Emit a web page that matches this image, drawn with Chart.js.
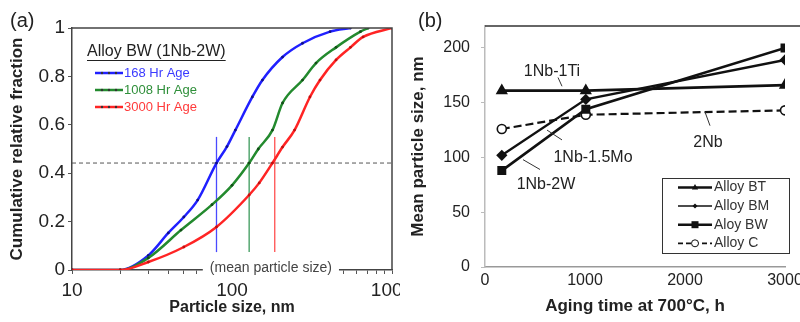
<!DOCTYPE html>
<html>
<head>
<meta charset="utf-8">
<script src="https://cdn.jsdelivr.net/npm/chart.js@4.4.1/dist/chart.umd.min.js"></script>
<style>
  html, body { margin: 0; padding: 0; background: #fff; }
  #wrap { position: relative; width: 800px; height: 322px; overflow: hidden; }
  .panel { position: absolute; top: 0; width: 400px; height: 322px; overflow: hidden; }
  .panel canvas { display: block; }
  #panelA { left: 0; }
  #panelB { left: 400px; }
</style>
</head>
<body>
<div id="wrap">
  <div class="panel" id="panelA"><canvas id="graphA" width="420" height="322"></canvas></div>
  <div class="panel" id="panelB"><canvas id="graphB" width="420" height="322"></canvas></div>
</div>
<script>
// (a) 粒径の累積分布 (nm, 累積相対頻度)
const sizeBlue  = [10, 20, 30, 40, 50, 61, 80, 93, 105, 134, 155, 207, 276, 410, 550];
const fracBlue  = [0, 0, 0.06, 0.153, 0.219, 0.289, 0.442, 0.51, 0.578, 0.715, 0.785, 0.88, 0.937, 0.985, 1.0];
const sizeGreen = [10, 20, 30, 48, 75, 100, 128, 146, 179, 207, 276, 335, 447, 635, 710];
const fracGreen = [0, 0, 0.05, 0.165, 0.27, 0.35, 0.442, 0.5, 0.578, 0.69, 0.785, 0.855, 0.92, 0.985, 1.0];
const sizeRed   = [10, 20, 30, 50, 80, 128, 148, 179, 207, 246, 307, 355, 447, 550, 660, 1000];
const fracRed   = [0, 0, 0.033, 0.095, 0.178, 0.31, 0.36, 0.442, 0.508, 0.578, 0.715, 0.785, 0.868, 0.92, 0.963, 1.0];
// 平均粒径 (縦線) と 基準線
const meanSize = [80, 128, 185];
const meanLow = 0.074;
const meanHigh = 0.55;
const refLevel = 0.442;
const sizeTicks = [10, 100, 1000];
const ageLabels = ['168 Hr Age', '1008 Hr Age', '3000 Hr Age'];
const legendTitleA = 'Alloy BW (1Nb-2W)';

// (b) 時効時間と平均粒径
const agingHours = [168, 1008, 3000];
const alloyBT = [161, 161, 166];
const alloyBM = [102, 153, 189];
const alloyBW = [88, 144, 200];
const alloyC  = [126, 139, 143];
const alloyLabels = ['Alloy BT', 'Alloy BM', 'Aloy BW', 'Alloy C'];
const noteTexts = ['1Nb-1Ti', '2Nb', '1Nb-1.5Mo', '1Nb-2W'];

const FONT = '"Liberation Sans", Arial, sans-serif';
Chart.defaults.font.family = FONT;
Chart.defaults.color = '#222';

const BLUE = '#2020ff';
const GREEN = '#238a2e';
const RED = '#ff2424';

function pts(xs, ys) {
  return xs.map(function(x, i) { return {x: x, y: ys[i]}; });
}

/*
  (a) 装飾 (枠・凡例・ラベル)
*/
const decorA = {
  id: 'decorA',
  afterDraw(chart) {
    const ctx = chart.ctx;
    const a = chart.chartArea;
    ctx.save();
    // 上と右の枠
    ctx.strokeStyle = '#444';
    ctx.lineWidth = 1.5;
    ctx.beginPath();
    ctx.moveTo(a.left, a.top);
    ctx.lineTo(a.right, a.top);
    ctx.lineTo(a.right, a.bottom);
    ctx.stroke();

    // (mean particle size)
    ctx.font = '14px ' + FONT;
    const mtxt = '(mean particle size)';
    const mw = ctx.measureText(mtxt).width;
    const mx = chart.scales.x.getPixelForValue(175);
    ctx.fillStyle = '#fff';
    ctx.fillRect(mx - mw / 2 - 7, a.bottom - 9, mw + 14, 17);
    ctx.fillStyle = '#444';
    ctx.textAlign = 'center';
    ctx.textBaseline = 'middle';
    ctx.fillText(mtxt, mx, a.bottom - 2);

    // (a)
    ctx.font = '20px ' + FONT;
    ctx.fillStyle = '#222';
    ctx.textAlign = 'left';
    ctx.fillText('(a)', 10, 21);

    // 凡例
    ctx.font = '16px ' + FONT;
    const tx = a.left + 15;
    const ty = a.top + 24;
    ctx.fillText(legendTitleA, tx, ty);
    const tw = ctx.measureText(legendTitleA).width;
    ctx.strokeStyle = '#222';
    ctx.lineWidth = 1;
    ctx.beginPath();
    ctx.moveTo(tx, ty + 8.5);
    ctx.lineTo(tx + tw, ty + 8.5);
    ctx.stroke();

    const cols = [BLUE, GREEN, RED];
    const txtCols = ['#3a3aff', '#2f8f3a', '#ff3a3a'];
    ctx.font = '13px ' + FONT;
    for (let i = 0; i < 3; i++) {
      const y = a.top + 45 + i * 17;
      ctx.strokeStyle = cols[i];
      ctx.lineWidth = 2.5;
      ctx.beginPath();
      ctx.moveTo(a.left + 23, y);
      ctx.lineTo(a.left + 51, y);
      ctx.stroke();
      ctx.fillStyle = '#333';
      [30, 37, 44].forEach(function(dx) {
        ctx.beginPath();
        ctx.arc(a.left + dx, y, 1.2, 0, Math.PI * 2);
        ctx.fill();
      });
      ctx.fillStyle = txtCols[i];
      ctx.fillText(ageLabels[i], a.left + 52, y);
    }
    ctx.restore();
  }
};

/*
  (b) 装飾 (上線・注記・凡例)
*/
const notePos = [
  {x: 670, y: 178, from: [730, 173], to: [770, 165]},
  {x: 2230, y: 114, from: [2200, 141.5], to: [2250, 129]},
  {x: 1080, y: 100, from: [620, 125], to: [770, 116]},
  {x: 610, y: 75, from: [380, 98], to: [550, 89]}
];

function drawMarker(ctx, style, x, y, r) {
  ctx.beginPath();
  if (style === 'triangle') {
    ctx.moveTo(x, y - r);
    ctx.lineTo(x + r * 0.9, y + r * 0.6);
    ctx.lineTo(x - r * 0.9, y + r * 0.6);
    ctx.closePath();
    ctx.fill();
  } else if (style === 'rectRot') {
    ctx.moveTo(x, y - r);
    ctx.lineTo(x + r, y);
    ctx.lineTo(x, y + r);
    ctx.lineTo(x - r, y);
    ctx.closePath();
    ctx.fill();
  } else if (style === 'rect') {
    ctx.fillRect(x - r, y - r, r * 2, r * 2);
  } else {
    ctx.arc(x, y, r, 0, Math.PI * 2);
    ctx.fillStyle = '#fff';
    ctx.fill();
    ctx.lineWidth = 1;
    ctx.setLineDash([]);
    ctx.stroke();
  }
}

const decorB = {
  id: 'decorB',
  afterDraw(chart) {
    const ctx = chart.ctx;
    const a = chart.chartArea;
    const xs = chart.scales.x;
    const ys = chart.scales.y;
    ctx.save();
    // 上の線
    ctx.strokeStyle = '#333';
    ctx.lineWidth = 1.5;
    ctx.beginPath();
    ctx.moveTo(a.left, a.top);
    ctx.lineTo(chart.width, a.top);
    ctx.stroke();

    // (b)
    ctx.font = '20px ' + FONT;
    ctx.fillStyle = '#222';
    ctx.textBaseline = 'middle';
    ctx.textAlign = 'left';
    ctx.fillText('(b)', 18, 21);

    // 注記
    ctx.font = '16px ' + FONT;
    ctx.textAlign = 'center';
    ctx.strokeStyle = '#333';
    ctx.lineWidth = 1;
    notePos.forEach(function(n, i) {
      ctx.fillStyle = '#222';
      ctx.fillText(noteTexts[i], xs.getPixelForValue(n.x), ys.getPixelForValue(n.y));
      ctx.beginPath();
      ctx.moveTo(xs.getPixelForValue(n.from[0]), ys.getPixelForValue(n.from[1]));
      ctx.lineTo(xs.getPixelForValue(n.to[0]), ys.getPixelForValue(n.to[1]));
      ctx.stroke();
    });

    // 凡例
    const bx = a.right - 123;
    const by = a.bottom - 89;
    ctx.strokeStyle = '#333';
    ctx.lineWidth = 1;
    ctx.strokeRect(bx + 0.5, by + 0.5, 127, 75);
    const styles = ['triangle', 'rectRot', 'rect', 'circle'];
    const widths = [2.5, 1.5, 2.5, 1.8];
    const sizes = [3.5, 2.5, 3.5, 3.5];
    ctx.font = '14px ' + FONT;
    ctx.textAlign = 'left';
    for (let i = 0; i < 4; i++) {
      const y = by + 9.5 + i * 18.6;
      ctx.strokeStyle = '#111';
      ctx.fillStyle = '#111';
      ctx.lineWidth = widths[i];
      ctx.setLineDash(i === 3 ? [5, 3] : []);
      ctx.beginPath();
      ctx.moveTo(bx + 16, y);
      ctx.lineTo(bx + 50, y);
      ctx.stroke();
      ctx.setLineDash([]);
      drawMarker(ctx, styles[i], bx + 33, y, sizes[i]);
      ctx.fillStyle = '#333';
      ctx.fillText(alloyLabels[i], bx + 52, y);
    }
    ctx.restore();
  }
};

/*
  (a) グラフ描画
*/
function drawGraphA() {
  const meanCols = ['#4a4aff', '#3c9a5c', '#ff5050'];
  const datasets = [
    {data: pts(sizeRed, fracRed), borderColor: RED, pointBackgroundColor: '#c01010', order: 0},
    {data: pts(sizeGreen, fracGreen), borderColor: GREEN, pointBackgroundColor: '#134d18', order: 1},
    {data: pts(sizeBlue, fracBlue), borderColor: BLUE, pointBackgroundColor: '#10108a', order: 2}
  ].map(function(d) {
    return Object.assign({
      borderWidth: 2.5, pointRadius: 1.4, pointBorderWidth: 0, cubicInterpolationMode: 'monotone'
    }, d);
  });
  meanSize.forEach(function(m, i) {
    datasets.push({
      data: [{x: m, y: meanLow}, {x: m, y: meanHigh}],
      borderColor: meanCols[i], borderWidth: 1.3, pointRadius: 0, order: 4
    });
  });
  datasets.push({
    data: [{x: 10, y: refLevel}, {x: 1000, y: refLevel}],
    borderColor: '#555', borderWidth: 1, borderDash: [4, 3], pointRadius: 0, order: 5
  });

  new Chart(document.getElementById('graphA'), {
    type: 'line',
    data: {datasets: datasets},
    options: {
      responsive: false,
      animation: false,
      layout: {padding: {top: 28, right: 28, left: 0, bottom: 0}},
      plugins: {legend: {display: false}, tooltip: {enabled: false}},
      scales: {
        x: {
          type: 'logarithmic', min: 10, max: 1000,
          afterFit(scale) { scale.height = 52; },
          grid: {drawOnChartArea: false, tickLength: 4, color: '#555'},
          border: {color: '#444', width: 1.5},
          ticks: {
            autoSkip: false, maxRotation: 0, padding: 5,
            font: {size: 19}, color: '#222',
            callback: function(v) { return sizeTicks.includes(v) ? String(v) : ''; }
          },
          title: {display: true, text: 'Particle size, nm', font: {size: 16, weight: 'bold'}, color: '#222', padding: {top: 0, bottom: 5}}
        },
        y: {
          min: 0, max: 1,
          afterFit(scale) { scale.width = 72; },
          grid: {drawOnChartArea: false, tickLength: 4, color: '#555'},
          border: {color: '#444', width: 1.5},
          ticks: {
            stepSize: 0.2, padding: 3, font: {size: 19}, color: '#222',
            callback: function(v) { return String(+v.toFixed(1)); }
          },
          title: {display: true, text: 'Cumulative relative fraction', font: {size: 17, weight: 'bold'}, color: '#222', padding: {top: 7, bottom: 0}}
        }
      }
    },
    plugins: [decorA]
  });
}

/*
  (b) グラフ描画
*/
function drawGraphB() {
  const base = {borderColor: '#111', pointBorderColor: '#111', pointBackgroundColor: '#111', tension: 0};
  const datasets = [
    Object.assign({}, base, {label: alloyLabels[0], data: pts(agingHours, alloyBT), borderWidth: 2.6, pointStyle: 'triangle', pointRadius: 4.5}),
    Object.assign({}, base, {label: alloyLabels[1], data: pts(agingHours, alloyBM), borderWidth: 2.3, pointStyle: 'rectRot', pointRadius: 4}),
    Object.assign({}, base, {label: alloyLabels[2], data: pts(agingHours, alloyBW), borderWidth: 2.6, pointStyle: 'rect', pointRadius: 4.5}),
    Object.assign({}, base, {label: alloyLabels[3], data: pts(agingHours, alloyC), borderWidth: 2.2, borderDash: [8, 4], pointStyle: 'circle', pointRadius: 4.5, pointBackgroundColor: '#fff', pointBorderWidth: 1.6})
  ];

  new Chart(document.getElementById('graphB'), {
    type: 'line',
    data: {datasets: datasets},
    options: {
      responsive: false,
      animation: false,
      layout: {padding: {top: 26, right: 35, left: 0, bottom: 0}},
      plugins: {legend: {display: false}, tooltip: {enabled: false}},
      scales: {
        x: {
          type: 'linear', min: 0, max: 3000,
          afterFit(scale) { scale.height = 55; },
          grid: {drawOnChartArea: false, drawTicks: false},
          border: {color: '#999', width: 1.5},
          ticks: {
            stepSize: 1000, padding: 4, maxRotation: 0, font: {size: 16}, color: '#222',
            callback: function(v) { return String(v); }
          },
          title: {display: true, text: 'Aging time at 700°C, h', font: {size: 17, weight: 'bold'}, color: '#222', padding: {top: 0, bottom: 5}}
        },
        y: {
          min: 0, max: 220,
          afterFit(scale) { scale.width = 85; },
          afterBuildTicks(scale) { scale.ticks = scale.ticks.filter(function(t) { return t.value <= 200; }); },
          grid: {drawOnChartArea: false, tickLength: 4, color: '#bbb'},
          border: {color: '#bbb', width: 1.5},
          ticks: {stepSize: 50, padding: 11, font: {size: 16}, color: '#222'},
          title: {display: true, text: 'Mean particle size, nm', font: {size: 17, weight: 'bold'}, color: '#222', padding: {top: 8, bottom: 0}}
        }
      }
    },
    plugins: [decorB]
  });
}

drawGraphA();
drawGraphB();
</script>
</body>
</html>
